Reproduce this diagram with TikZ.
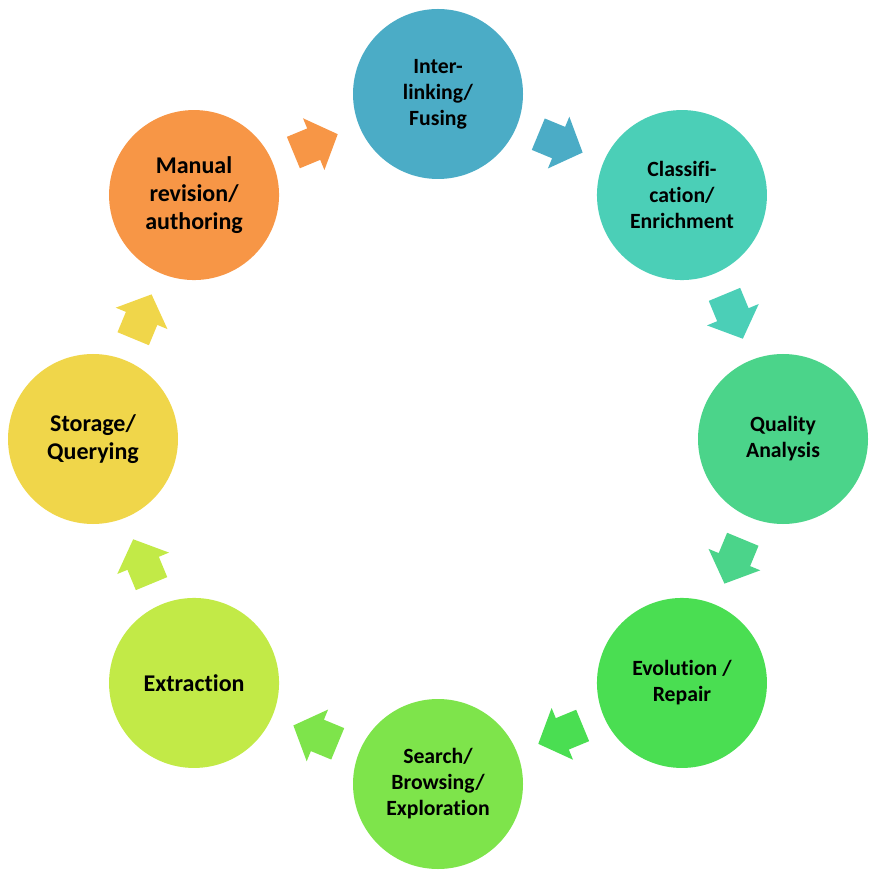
\documentclass[tikz,border=0pt]{standalone}
\usepackage{fontspec}
\setmainfont[Ligatures=NoCommon]{Carlito}
\definecolor{cInter}{HTML}{4BACC6}
\definecolor{cClass}{HTML}{4BCFB7}
\definecolor{cQual}{HTML}{4BD48A}
\definecolor{cEvol}{HTML}{4ADE52}
\definecolor{cSearch}{HTML}{7EE44B}
\definecolor{cExtr}{HTML}{C2EA47}
\definecolor{cStor}{HTML}{F0D64A}
\definecolor{cManual}{HTML}{F79646}
\begin{document}
\begin{tikzpicture}[x=0.75pt,y=0.75pt,
  stage/.style={circle,minimum size=127.5pt,inner sep=0pt,align=center,
    font=\bfseries\fontsize{16.3}{19.5}\selectfont,text=black},
  bigtext/.style={font=\bfseries\fontsize{18}{20.8}\selectfont},
  blockarrow/.style={draw=none}]
\useasboundingbox (0,0) rectangle (880,879);
\coordinate (ctr) at (438,440);
\begin{scope}[shift={(ctr)}]
  % stages
  \node[stage,fill=cInter]   (inter)  at (90:345)   {Inter-\\linking/\\Fusing};
  \node[stage,fill=cClass]   (class)  at (45:345)   {Classifi-\\cation/\\Enrichment};
  \node[stage,fill=cQual]    (qual)   at (0:345)    {Quality\\Analysis};
  \node[stage,fill=cEvol]    (evol)   at (-45:345)  {Evolution /\\Repair};
  \node[stage,fill=cSearch]  (search) at (-90:345)  {Search/\\Browsing/\\Exploration};
  \node[stage,bigtext,fill=cExtr]   (extr)   at (-135:345) {Extraction};
  \node[stage,bigtext,fill=cStor]   (stor)   at (180:345)  {Storage/\\Querying};
  \node[stage,bigtext,fill=cManual] (manual) at (135:345)  {Manual\\revision/\\authoring};
  % block arrows (clockwise), coloured as their source stage
  \foreach \a/\c in {112.5/cManual,67.5/cInter,22.5/cClass,-22.5/cQual,
                     -67.5/cEvol,-112.5/cSearch,-157.5/cExtr,157.5/cStor}{
    \begin{scope}[shift={(\a:320)},rotate=\a-90]
      \fill[blockarrow,\c] (-24,-17) -- (-2,-17) -- (-2,-28) -- (24,0)
        -- (-2,28) -- (-2,17) -- (-24,17) -- cycle;
    \end{scope}
  }
\end{scope}
\end{tikzpicture}
\end{document}
